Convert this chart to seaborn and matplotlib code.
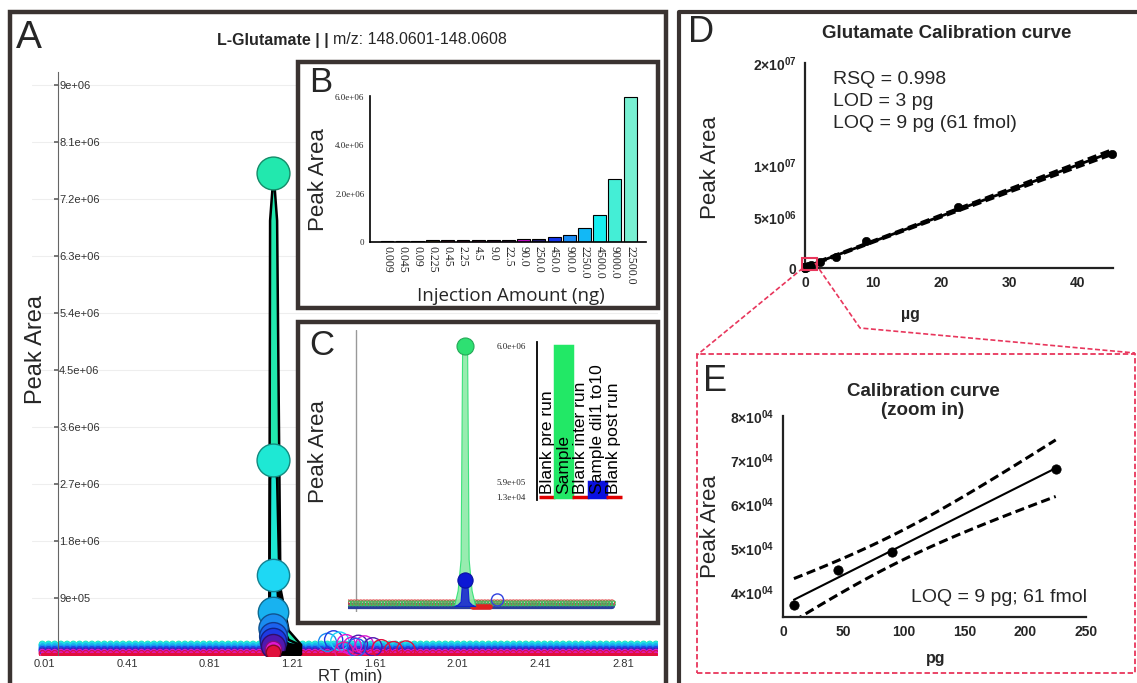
import numpy as np
import matplotlib
matplotlib.use("Agg")
import matplotlib.pyplot as plt
import matplotlib.colors as mcolors
import seaborn as sns
from matplotlib.patches import Rectangle
from matplotlib.lines import Line2D

sns.set_theme(style="white")
plt.rcParams["font.family"] = ["Liberation Sans", "DejaVu Sans"]
plt.rcParams["mathtext.fontset"] = "custom"
plt.rcParams["mathtext.rm"] = "Liberation Sans"
plt.rcParams["mathtext.bf"] = "Liberation Sans:bold"
NARROW = ["Liberation Sans Narrow", "Liberation Sans", "DejaVu Sans"]
SERIF = ["Liberation Serif", "DejaVu Serif"]

W, H = 1137, 683

# ---------------- data ----------------
# injection series (panels B, D, E)
amount_labels = ["0.009", "0.045", "0.09", "0.225", "0.45", "2.25", "4.5", "9.0", "22.5",
                 "90.0", "250.0", "450.0", "900.0", "2250.0", "4500.0", "9000.0", "22500.0"]
amount_ng = [0.009, 0.045, 0.09, 0.225, 0.45, 2.25, 4.5, 9.0, 22.5,
             90.0, 250.0, 450.0, 900.0, 2250.0, 4500.0, 9000.0, 22500.0]
peak_area = [3.7e4, 4.5e4, 4.9e4, 6.8e4, 7.5e4, 8.0e4, 8.5e4, 9.0e4, 1.0e5,
             1.25e5, 1.4e5, 2.2e5, 3.1e5, 5.8e5, 1.10e6, 2.62e6, 6.0e6]
amount_colors = ["#8a1c1c", "#7c1c24", "#6e2030", "#a08424", "#9c2040", "#a0204c", "#901c60",
                 "#801a6c", "#701e80", "#c00cc4", "#221c6a", "#1234ea", "#1a8ef6", "#12b8f6",
                 "#16eef0", "#44eed6", "#78f0d2"]
extra_ug = 45.0          # top calibration level only shown in D
extra_area = 1.11e7
b_yticks = [0, 2e6, 4e6, 6e6]
b_yticklabels = ["0", "2.0e+06", "4.0e+06", "6.0e+06"]

# panel A: one chromatogram trace per level, tallest first
trace_apex = [7.61e6, 3.08e6, 1.26e6, 0.68e6, 0.42e6, 0.30e6, 0.22e6, 0.15e6, 0.10e6, 0.05e6]
trace_base = [0.17e6, 0.16e6, 0.15e6, 0.13e6, 0.11e6, 0.09e6, 0.08e6, 0.06e6, 0.04e6, 0.02e6]
trace_colors = ["#22e8ae", "#1ee8d4", "#1ed8f4", "#18b2f0", "#1a8cf0", "#1c62ee",
                "#1e3ae4", "#5018b0", "#e018d0", "#e0103c"]
trace_size = [560, 560, 540, 480, 440, 400, 360, 300, 140, 110]
apex_rt = 1.117
shape_rt = [1.085, 1.096, 1.100, 1.117, 1.134, 1.150, 1.19, 1.25]
shape_frac = [0.0, 0.05, 0.9, 1.0, 0.9, 0.12, 0.03, 0.0]
scan_rt = np.arange(0.0, 2.97, 0.03)
bump_rt = [1.38, 1.41, 1.44, 1.47, 1.50, 1.53, 1.56, 1.60, 1.64, 1.70, 1.76, 1.46, 1.52]
bump_val = [0.20e6, 0.24e6, 0.22e6, 0.18e6, 0.14e6, 0.17e6, 0.16e6, 0.13e6, 0.10e6,
            0.07e6, 0.08e6, 0.06e6, 0.12e6]
bump_colors = ["#1a8cf0", "#1e3ae4", "#1ed8f4", "#e018d0", "#e018d0", "#5018b0", "#e018d0",
               "#5018b0", "#e0103c", "#e0103c", "#e0103c", "#e02090", "#1c62ee"]
a_yticks = [9e5, 1.8e6, 2.7e6, 3.6e6, 4.5e6, 5.4e6, 6.3e6, 7.2e6, 8.1e6, 9e6]
a_yticklabels = ["9e+05", "1.8e+06", "2.7e+06", "3.6e+06", "4.5e+06", "5.4e+06",
                 "6.3e+06", "7.2e+06", "8.1e+06", "9e+06"]
a_xticks = [0.01, 0.41, 0.81, 1.21, 1.61, 2.01, 2.41, 2.81]
a_xticklabels = ["0.01", "0.41", "0.81", "1.21", "1.61", "2.01", "2.41", "2.81"]

# panel C: sample vs diluted sample
c_apex = [6.0e6, 5.9e5]
c_colors = ["#2ee072", "#0c18d4"]
c_fill = ["#8deaa8", "#1a2ad0"]
c_apex_rt = 1.10
c_shape_rt = [1.00, 1.034, 1.062, 1.076, 1.10, 1.124, 1.138, 1.166, 1.20]
c_shape_frac = [0.0, 0.06, 0.18, 0.97, 1.0, 0.97, 0.18, 0.06, 0.0]
c_scan_rt = np.arange(0.0, 2.5, 0.03)
c_dip_rt = [1.18, 1.34]
legend_labels = ["Blank pre run", "Sample", "Blank inter run", "Sample dil1 to10", "Blank post run"]
legend_values = [1.3e4, 6.0e6, 1.3e4, 5.9e5, 1.3e4]
legend_colors = ["#e00000", "#22e866", "#e00000", "#0a10e0", "#e00000"]
legend_ticks = [1.3e4, 5.9e5, 6.0e6]
legend_ticklabels = ["1.3e+04", "5.9e+05", "6.0e+06"]

# panels D / E
t95_d = 2.120   # t(0.975, df=16)
t95_e = 4.303   # t(0.975, df=2)
d_xticks = [0, 10, 20, 30, 40]
d_yticks = [0, 5e6, 1e7, 2e7]
d_yticklabels = ["0", r"$\mathbf{5{\times}10^{06}}$", r"$\mathbf{1{\times}10^{07}}$",
                 r"$\mathbf{2{\times}10^{07}}$"]
e_xticks = [0, 50, 100, 150, 200, 250]
e_yticks = [4e4, 5e4, 6e4, 7e4, 8e4]
e_yticklabels = [r"$\mathbf{4{\times}10^{04}}$", r"$\mathbf{5{\times}10^{04}}$",
                 r"$\mathbf{6{\times}10^{04}}$", r"$\mathbf{7{\times}10^{04}}$",
                 r"$\mathbf{8{\times}10^{04}}$"]
stats_lines = ["RSQ = 0.998", "LOD = 3 pg", "LOQ = 9 pg (61 fmol)"]


def rect(l, t, r, b):
    return [l / W, 1 - b / H, (r - l) / W, (b - t) / H]


def fx(x):
    return x / W


def fy(y):
    return 1 - y / H


def darker(c, f=0.6):
    r, g, b = mcolors.to_rgb(c)
    return (r * f, g * f, b * f)


def fit_band(x, y, grid, t):
    x = np.asarray(x, float)
    y = np.asarray(y, float)
    slope, icpt = np.polyfit(x, y, 1)
    resid = y - (slope * x + icpt)
    s = np.sqrt(np.sum(resid ** 2) / (len(x) - 2))
    sxx = np.sum((x - x.mean()) ** 2)
    fit = slope * grid + icpt
    half = t * s * np.sqrt(1 / len(x) + (grid - x.mean()) ** 2 / sxx)
    return fit, fit - half, fit + half


def box(l, t, r, b, z):
    fig.patches.append(Rectangle((fx(l), fy(b)), (r - l) / W, (b - t) / H, fill=True,
                                 facecolor="white", edgecolor="#3a3331", lw=3.2,
                                 transform=fig.transFigure, zorder=z))


fig = plt.figure(figsize=(W / 100, H / 100), dpi=100)

# ---------------- panel A ----------------
axA = fig.add_axes(rect(32, 66, 658, 656.3))
axA.set_zorder(0)
axA.set_facecolor("none")
for base, col in zip(trace_base, trace_colors):
    sns.lineplot(x=[scan_rt[0], scan_rt[-1]], y=[base, base], color=col, lw=2.5, ax=axA, zorder=2)
    axA.scatter(scan_rt, np.full(len(scan_rt), base), s=20, facecolors="none",
                edgecolors=col, linewidths=0.8, zorder=2)
axA.scatter(bump_rt, bump_val, s=170, facecolors="none", edgecolors=bump_colors,
            linewidths=1.0, zorder=2.5)
for i, (apex, base, col, sz) in enumerate(zip(trace_apex, trace_base, trace_colors, trace_size)):
    yy = [base + f * (apex - base) for f in shape_frac]
    axA.fill_between(shape_rt, base, yy, facecolor=col, edgecolor="black", lw=1.8, zorder=3 + i * 0.01)
    sns.scatterplot(x=[apex_rt], y=[apex], color=col, s=sz, edgecolor=darker(col), linewidth=1.0,
                    ax=axA, zorder=3.005 + i * 0.01)
axA.set_xlim(-0.05, 2.98)
axA.set_ylim(-0.02e6, 9.3e6)
for sp in ["top", "left", "bottom"]:
    axA.spines[sp].set_visible(False)
axA.yaxis.tick_right()
axA.spines["right"].set_position(("data", 0.075))
axA.spines["right"].set_color("#666666")
axA.spines["right"].set_linewidth(0.8)
axA.spines["right"].set_bounds(0, 9.2e6)
axA.set_yticks(a_yticks, a_yticklabels)
axA.set_xticks(a_xticks, a_xticklabels)
axA.tick_params(axis="y", direction="in", length=3, color="#666666", pad=1, labelsize=8,
                labelcolor="#333333")
axA.tick_params(axis="x", length=0, pad=2, labelsize=8, labelcolor="#333333")
axA.yaxis.grid(True, color="#eeeeee", lw=0.8)
axA.set_axisbelow(True)
axA.set_xlabel("")
axA.set_ylabel("")
fig.text(fx(350), fy(676), "RT (min)", ha="center", va="center", fontsize=12)
fig.text(fx(36), fy(350), "Peak Area", rotation=90, ha="center", va="center", fontsize=17)
fig.text(fx(329), fy(40), "L-Glutamate | |", ha="right", va="center", fontsize=11.5,
         fontweight="bold", family=NARROW)
fig.text(fx(333), fy(40), "m/z: 148.0601-148.0608", ha="left", va="center", fontsize=11.5,
         family=NARROW)
fig.text(fx(16), fy(38), "A", ha="left", va="center", fontsize=28, family=NARROW)

# panel A frame
fig.patches.append(Rectangle((fx(10), fy(700)), (666 - 10) / W, (700 - 12) / H, fill=False,
                             edgecolor="#3a3331", lw=3.2, transform=fig.transFigure, zorder=0.6))

# ---------------- panel B ----------------
box(298, 62, 658, 308, 0.5)
axB = fig.add_axes(rect(370, 96, 646, 242))
axB.set_zorder(1)
axB.set_facecolor("none")
sns.barplot(x=amount_labels, y=peak_area, hue=amount_labels, palette=amount_colors, legend=False,
            width=0.85, edgecolor="black", linewidth=0.8, saturation=1, ax=axB)
axB.set_xlim(-1.12, 17.05)
axB.set_ylim(0, 6.05e6)
axB.set_yticks(b_yticks, b_yticklabels)
axB.tick_params(axis="y", direction="out", length=3, width=1, color="black", pad=1, labelsize=6.5)
axB.tick_params(axis="x", length=0, pad=3, labelsize=8.5)
for lab in axB.get_yticklabels():
    lab.set_family(SERIF)
for lab in axB.get_xticklabels():
    lab.set_family(SERIF)
    lab.set_rotation(270)
    lab.set_va("top")
    lab.set_ha("center")
for sp in ["top", "right"]:
    axB.spines[sp].set_visible(False)
for sp in ["left", "bottom"]:
    axB.spines[sp].set_color("black")
    axB.spines[sp].set_linewidth(1.2)
axB.set_xlabel("")
axB.set_ylabel("")
fig.text(fx(511), fy(296), "Injection Amount (ng)", ha="center", va="center", fontsize=13.5,
         family=["Open Sans", "Liberation Sans"])
fig.text(fx(318), fy(180), "Peak Area", rotation=90, ha="center", va="center", fontsize=16)
fig.text(fx(309), fy(82), "B", ha="left", va="center", fontsize=25)

# ---------------- panel C ----------------
box(298, 322, 658, 623, 0.5)
axC = fig.add_axes(rect(348, 330, 616, 612))
axC.set_zorder(1)
axC.set_facecolor("none")
axC.axvline(0.075, color="#999999", lw=1.0, zorder=1)
sns.lineplot(x=[c_scan_rt[0], c_scan_rt[-1]], y=[0, 0], color="#2b3e9c", lw=4.5, ax=axC, zorder=2)
sns.lineplot(x=c_dip_rt, y=[-0.03e6, -0.03e6], color="#e02020", lw=4, ax=axC, zorder=2.1)
axC.scatter(c_scan_rt, np.full(len(c_scan_rt), 0.08e6), s=14, facecolors="none",
            edgecolors="#e04040", linewidths=0.8, zorder=2)
axC.scatter(c_scan_rt + 0.015, np.full(len(c_scan_rt), 0.06e6), s=12, facecolors="none",
            edgecolors="#40c060", linewidths=0.8, zorder=2)
axC.scatter([1.41], [0.14e6], s=75, facecolors="none", edgecolors="#3040e0", linewidths=1.0, zorder=2)
for i, (apex, col, fcol) in enumerate(zip(c_apex, c_colors, c_fill)):
    yy = [f * apex for f in c_shape_frac]
    axC.fill_between(c_shape_rt, 0, yy, facecolor=fcol, edgecolor=col, lw=0.8, alpha=0.9,
                     zorder=3 + i * 0.01)
    sns.scatterplot(x=[c_apex_rt], y=[apex], color=col, s=150 if i == 0 else 120,
                    edgecolor=darker(col, 0.75), linewidth=0.8, ax=axC, zorder=3.005 + i * 0.01)
axC.set_xlim(0, 2.528)
axC.set_ylim(-0.138e6, 6.37e6)
axC.set_axis_off()
fig.text(fx(318), fy(452), "Peak Area", rotation=90, ha="center", va="center", fontsize=16)
fig.text(fx(309), fy(345), "C", ha="left", va="center", fontsize=25)

axL = fig.add_axes(rect(537, 342, 624, 500))
axL.set_zorder(2)
axL.set_facecolor("none")
sns.barplot(x=legend_labels, y=legend_values, hue=legend_labels, palette=legend_colors,
            legend=False, width=1.0, saturation=1, ax=axL)
for p in axL.patches:
    p.set_edgecolor(p.get_facecolor())
    p.set_linewidth(2.5)
for i, lab in enumerate(legend_labels):
    axL.text(i, 0.1e6, lab, rotation=90, ha="center", va="bottom", fontsize=12.5, color="black")
axL.set_xlim(-0.6, 4.6)
axL.set_ylim(-0.12e6, 6.16e6)
axL.set_xticks([])
axL.set_yticks(legend_ticks, legend_ticklabels)
axL.tick_params(axis="y", length=0, pad=8, labelsize=6.5)
for lab in axL.get_yticklabels():
    lab.set_family(SERIF)
for sp in ["top", "right", "bottom"]:
    axL.spines[sp].set_visible(False)
axL.spines["left"].set_color("black")
axL.spines["left"].set_linewidth(1.3)
axL.set_xlabel("")
axL.set_ylabel("")

# ---------------- panel D ----------------
fig.add_artist(Line2D([fx(679), fx(679), fx(1140)], [fy(700), fy(12), fy(12)], color="#3a3331",
                      lw=3.0, transform=fig.transFigure))
axD = fig.add_axes(rect(805, 63, 1113, 268))
axD.set_facecolor("none")
d_x = [a / 1000 for a in amount_ng] + [extra_ug]
d_y = peak_area + [extra_area]
grid_d = np.linspace(min(d_x), max(d_x), 60)
fit_d, lo_d, hi_d = fit_band(d_x, d_y, grid_d, t95_d)
sns.lineplot(x=grid_d, y=fit_d, color="black", lw=2.0, ax=axD)
sns.lineplot(x=grid_d, y=lo_d, color="black", lw=2.2, linestyle=(0, (3, 1.5)), ax=axD)
sns.lineplot(x=grid_d, y=hi_d, color="black", lw=2.2, linestyle=(0, (3, 1.5)), ax=axD)
sns.scatterplot(x=d_x, y=d_y, color="black", s=36, edgecolor="black", ax=axD, zorder=5, clip_on=False)
axD.set_xlim(0, 45.2)
axD.set_ylim(0, 2e7)
axD.set_xticks(d_xticks)
axD.set_yticks(d_yticks, d_yticklabels)
axD.tick_params(direction="out", length=4, width=1.5, color="#222222", labelsize=10, pad=2)
for lab in axD.get_xticklabels() + axD.get_yticklabels():
    lab.set_fontweight("bold")
for sp in ["top", "right"]:
    axD.spines[sp].set_visible(False)
for sp in ["left", "bottom"]:
    axD.spines[sp].set_color("#222222")
    axD.spines[sp].set_linewidth(1.6)
axD.set_xlabel("")
axD.set_ylabel("")
fig.text(fx(711), fy(168), "Peak Area", rotation=90, ha="center", va="center", fontsize=16)
fig.text(fx(910), fy(315), "µg", ha="center", va="center", fontsize=11.5, fontweight="bold")
fig.text(fx(947), fy(33), "Glutamate Calibration curve", ha="center", va="center", fontsize=13.5,
         fontweight="bold")
for i, line in enumerate(stats_lines):
    fig.text(fx(833), fy(79 + 22.5 * i), line, ha="left", va="center", fontsize=14)
fig.text(fx(688), fy(33), "D", ha="left", va="center", fontsize=26, family=NARROW)

# zoom marker and connectors
red = "#e8365c"
fig.patches.append(Rectangle((fx(802), fy(270)), 15 / W, 12 / H, fill=False, edgecolor=red, lw=1.5,
                             transform=fig.transFigure, zorder=6))
fig.add_artist(Line2D([fx(803), fx(697)], [fy(268), fy(355)], color=red, lw=1.2,
                      linestyle=(0, (3, 1.5)), transform=fig.transFigure))
fig.add_artist(Line2D([fx(815), fx(860), fx(1135)], [fy(263), fy(328), fy(353)], color=red, lw=1.2,
                      linestyle=(0, (3, 1.5)), transform=fig.transFigure))
fig.patches.append(Rectangle((fx(697), fy(673)), (1135 - 697) / W, (673 - 354) / H, fill=False,
                             edgecolor=red, lw=1.3, linestyle=(0, (3, 1.5)),
                             transform=fig.transFigure, zorder=1))

# ---------------- panel E ----------------
axE = fig.add_axes(rect(783, 416, 1086, 617))
axE.set_facecolor("none")
e_x = [a * 1000 for a in amount_ng[:4]]
e_y = peak_area[:4]
grid_e = np.linspace(min(e_x), max(e_x), 60)
fit_e, lo_e, hi_e = fit_band(e_x, e_y, grid_e, t95_e)
sns.lineplot(x=grid_e, y=fit_e, color="black", lw=1.5, ax=axE)
sns.lineplot(x=grid_e, y=lo_e, color="black", lw=2.2, linestyle=(0, (3, 1.5)), ax=axE)
sns.lineplot(x=grid_e, y=hi_e, color="black", lw=2.2, linestyle=(0, (3, 1.5)), ax=axE)
sns.scatterplot(x=e_x, y=e_y, color="black", s=45, edgecolor="black", ax=axE, zorder=5, clip_on=False)
axE.set_xlim(0, 250)
axE.set_ylim(3.43e4, 8e4)
axE.set_xticks(e_xticks)
axE.set_yticks(e_yticks, e_yticklabels)
axE.tick_params(direction="out", length=4, width=1.5, color="#222222", labelsize=10, pad=2)
for lab in axE.get_xticklabels() + axE.get_yticklabels():
    lab.set_fontweight("bold")
for sp in ["top", "right"]:
    axE.spines[sp].set_visible(False)
for sp in ["left", "bottom"]:
    axE.spines[sp].set_color("#222222")
    axE.spines[sp].set_linewidth(1.6)
axE.set_xlabel("")
axE.set_ylabel("")
fig.text(fx(711), fy(527), "Peak Area", rotation=90, ha="center", va="center", fontsize=16)
fig.text(fx(936), fy(658), "pg", ha="center", va="center", fontsize=11.5, fontweight="bold")
fig.text(fx(923), fy(401), "Calibration curve\n(zoom in)", ha="center", va="center", fontsize=13.5,
         fontweight="bold", linespacing=1.15)
fig.text(fx(1087), fy(598), "LOQ = 9 pg; 61 fmol", ha="right", va="center", fontsize=14)
fig.text(fx(703), fy(381), "E", ha="left", va="center", fontsize=26, family=NARROW)

fig.savefig("out.png", dpi=100)
